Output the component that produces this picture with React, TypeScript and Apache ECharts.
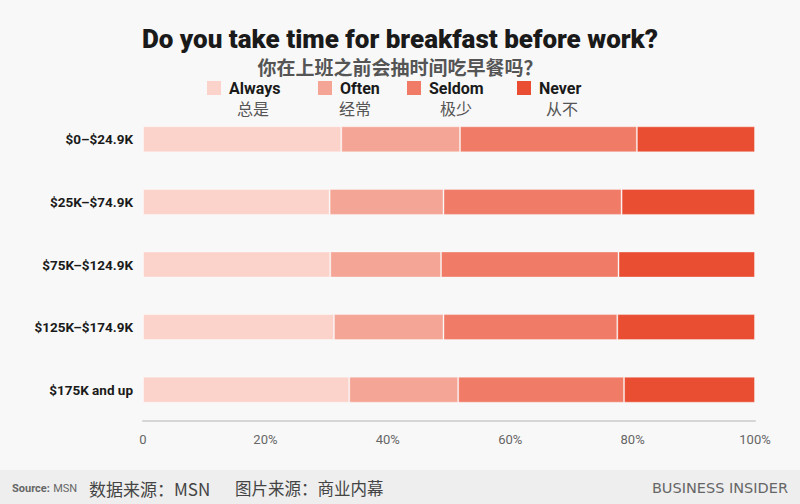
import React, { useEffect, useRef } from "react";
import * as echarts from "echarts";

const categories = ["$0–$24.9K", "$25K–$74.9K", "$75K–$124.9K", "$125K–$174.9K", "$175K and up"];
const seriesNames = ["Always", "Often", "Seldom", "Never"];
const seriesNamesCn = ["总是", "经常", "极少", "从不"];
const seriesColors = ["#fbd3cb", "#f5a596", "#f07b66", "#e94e33"];
const always = [32.4, 30.5, 30.6, 31.2, 33.7];
const often = [19.4, 18.6, 18.1, 17.9, 17.8];
const seldom = [28.9, 29.1, 29.0, 28.4, 27.1];
const never = [19.3, 21.8, 22.3, 22.5, 21.4];
const xTicks = [0, 20, 40, 60, 80, 100];

const FONT = "Roboto, 'Noto Sans', sans-serif";
const NARROW = "'Liberation Sans Narrow', Roboto, sans-serif";
const CJK = "'Noto Sans CJK SC', sans-serif";

export default function App() {
  const ref = useRef<HTMLDivElement>(null);
  useEffect(() => {
    if (!ref.current) return;
    const chart = echarts.init(ref.current, null, { renderer: "svg" });
    const values = [always, often, seldom, never];
    const legendX = [207, 318, 407, 517];
    const legendCnX = [253, 355, 456, 562];
    const legendGraphics: any[] = [];
    seriesNames.forEach((n, i) => {
      legendGraphics.push({
        type: "rect",
        shape: { x: legendX[i], y: 81, width: 14, height: 14 },
        style: { fill: seriesColors[i] },
      });
      legendGraphics.push({
        type: "text",
        x: legendX[i] + 22,
        y: 88,
        style: {
          text: n,
          fill: "#1a1a1a",
          font: `bold 16px ${FONT}`,
          textVerticalAlign: "middle",
          textAlign: "left",
        },
      });
      legendGraphics.push({
        type: "text",
        x: legendCnX[i],
        y: 108,
        style: {
          text: seriesNamesCn[i],
          fill: "#555",
          font: `16px ${CJK}`,
          textVerticalAlign: "middle",
          textAlign: "center",
        },
      });
    });
    chart.setOption({
      animation: false,
      backgroundColor: "#f8f8f8",
      title: [
        {
          text: "Do you take time for breakfast before work?",
          left: "center",
          top: 19,
          textStyle: { fontSize: 26, fontWeight: 900, color: "#1a1a1a", fontFamily: FONT, lineHeight: 30 },
        },
        {
          text: "你在上班之前会抽时间吃早餐吗？",
          left: "center",
          top: 50,
          textStyle: { fontSize: 19, fontWeight: "bold", color: "#555", fontFamily: CJK, lineHeight: 22 },
        },
      ],
      grid: { left: 143, right: 45, top: 108, bottom: 83 },
      xAxis: {
        type: "value",
        min: xTicks[0],
        max: xTicks[xTicks.length - 1],
        interval: 20,
        splitLine: { show: false },
        axisTick: { show: false },
        axisLine: { show: true, lineStyle: { color: "#d6d6d6", width: 2 } },
        axisLabel: {
          color: "#666",
          fontSize: 13,
          fontFamily: NARROW,
          margin: 12,
          formatter: (v: number) => (v === 0 ? "0" : v + "%"),
        },
      },
      yAxis: {
        type: "category",
        data: categories,
        inverse: true,
        axisLine: { show: false },
        axisTick: { show: false },
        axisLabel: { color: "#1a1a1a", fontSize: 13.5, fontWeight: "bold", fontFamily: NARROW, margin: 10 },
      },
      series: seriesNames.map((n, i) => ({
        name: n,
        type: "bar",
        stack: "total",
        barWidth: 26,
        data: values[i],
        itemStyle: { color: seriesColors[i], borderColor: "rgba(255,255,255,0.35)", borderWidth: 1 },
      })),
      graphic: [
        ...legendGraphics,
        {
          type: "rect",
          shape: { x: 0, y: 470, width: 800, height: 34 },
          style: { fill: "#eeeeee" },
        },
        {
          type: "text",
          x: 12,
          y: 488,
          style: {
            text: "{b|Source:} {n|MSN}",
            textVerticalAlign: "middle",
            rich: {
              b: { font: `bold 11px ${FONT}`, fill: "#666" },
              n: { font: `11px ${FONT}`, fill: "#666" },
            },
          },
        },
        {
          type: "text",
          x: 89,
          y: 488,
          style: { text: "数据来源：MSN", font: `17px ${CJK}`, fill: "#444", textVerticalAlign: "middle" },
        },
        {
          type: "text",
          x: 235,
          y: 488,
          style: { text: "图片来源：商业内幕", font: `16.5px ${CJK}`, fill: "#444", textVerticalAlign: "middle" },
        },
        {
          type: "text",
          x: 788,
          y: 488,
          style: {
            text: "BUSINESS INSIDER",
            font: `14.5px 'DejaVu Sans', sans-serif`,
            fill: "#666",
            textAlign: "right",
            textVerticalAlign: "middle",
          },
        },
      ],
    });
    return () => chart.dispose();
  }, []);
  return <div ref={ref} style={{ position: "fixed", left: 0, top: 0, width: 800, height: 504 }} />;
}
